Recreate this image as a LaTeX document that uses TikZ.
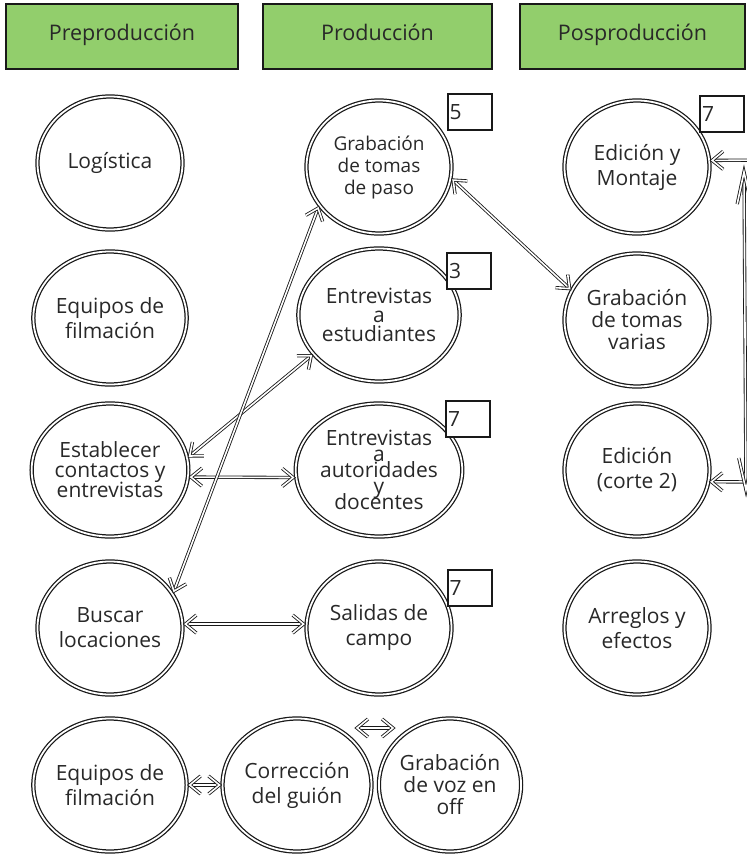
\documentclass[tikz,border=0pt]{standalone}
\usepackage{fontspec}
\setmainfont{Open Sans}
\usetikzlibrary{shapes.geometric,decorations.markings,calc}
\definecolor{hgreen}{RGB}{146,206,108}
\definecolor{ink}{RGB}{25,25,25}
\definecolor{tink}{RGB}{40,40,40}
\tikzset{
  dbl/.style={draw=ink, double=white, double distance=1.6pt, line width=0.85pt, line join=miter},
  circ/.style={ellipse, draw=ink, double=white, double distance=1.8pt, line width=1.25pt,
    minimum width=145pt, minimum height=133pt, inner sep=0pt, align=center,
    font=\fontsize{21}{25}\selectfont, text=tink, outer sep=3pt},
  hdr/.style={draw=ink, line width=2.2pt, fill=hgreen, minimum height=65pt,
    text height=12pt, text depth=5pt,
    font=\fontsize{21.5}{25}\selectfont, text=tink},
  numbox/.style={draw=ink, line width=2pt, fill=white, minimum height=36pt,
    text width=40pt, align=left, inner xsep=2pt, font=\fontsize{21}{25}\selectfont, text=tink},
  biarrow/.style={dbl, postaction={decorate}, decoration={markings,
    mark=at position 0 with {\draw[dbl] (11pt,9pt)--(0pt,0pt)--(11pt,-9pt);},
    mark=at position 1 with {\draw[dbl] (-11pt,9pt)--(0pt,0pt)--(-11pt,-9pt);}}},
  endarrow/.style={dbl, postaction={decorate}, decoration={markings,
    mark=at position 1 with {\draw[dbl] (-11pt,9pt)--(0pt,0pt)--(-11pt,-9pt);}}},
  bigbi/.style={dbl, postaction={decorate}, decoration={markings,
    mark=at position 0 with {\draw[dbl] (32pt,7pt)--(0pt,0pt)--(32pt,-7pt);},
    mark=at position 1 with {\draw[dbl] (-32pt,7pt)--(0pt,0pt)--(-32pt,-7pt);}}},
}
\begin{document}
\begin{tikzpicture}[x=1pt,y=-1pt]
\useasboundingbox (0,0) rectangle (747,855);

% headers
\node[hdr, minimum width=232pt] (h1) at (122,36.5) {Preproducción};
\node[hdr, minimum width=229pt] (h2) at (377.5,36.5) {Producción};
\node[hdr, minimum width=225pt] (h3) at (632.5,36.5) {Posproducción};

% column 1
\node[circ] (log) at (110,163) {Logística};
\node[circ] (equ) at (110,318) {Equipos de\\filmación};
\node[circ] (est) at (110,470) {Establecer\\[-5pt]contactos y\\[-5pt]entrevistas};
\node[circ] (bus) at (110,628) {Buscar\\locaciones};
\node[circ] (equb) at (110,785) {Equipos de\\filmación};

% column 2
\node[circ, font=\fontsize{19}{22}\selectfont] (paso) at (379,167) {Grabación\\de tomas\\de paso};
\node[circ] (estu) at (379,315) {Entrevistas\\[-6pt]a\\[-6pt]estudiantes};
\node[circ] (aut) at (379,470) {Entrevistas\\[-9pt]a\\[-9pt]autoridades\\[-9pt]y\\[-9pt]docentes};
\node[circ] (sal) at (379,628) {Salidas de\\campo};

% column 3
\node[circ] (edm) at (637,167) {Edición y\\Montaje};
\node[circ] (var) at (637,320) {Grabación\\[-3pt]de tomas\\[-3pt]varias};
\node[circ] (ed2) at (637,470) {Edición\\(corte 2)};
\node[circ] (arr) at (637,628) {Arreglos y\\efectos};

% bottom row
\node[circ, minimum width=139pt] (corr) at (297,785) {Corrección\\del guión};
\node[circ, minimum width=139pt] (voz) at (450,785) {Grabación\\[-3pt]de voz en\\[-3pt]off};

% number boxes
\node[numbox] (n5) at (469.5,112) {5};
\node[numbox] (n3) at (469,271) {3};
\node[numbox] (n7a) at (468,419) {7};
\node[numbox] (n7b) at (469.5,587.5) {7};
\node[numbox] (n7c) at (722,114) {7};

% connectors
\draw[biarrow] (est.-5) -- (aut.185);
\draw[biarrow] (bus.3) -- (sal.177);
\draw[biarrow] (est.10) -- (estu.211);
\draw[biarrow] (bus.30) -- (paso.214);
\draw[biarrow] (paso.-10) -- (var.155);
\draw[biarrow] (equb.east) -- (corr.west);
\coordinate (ta) at (357,728);
\coordinate (tb) at (393,728);
\draw[biarrow] (ta) -- (tb);

% right edge connectors
\coordinate (ra) at (765,160);
\coordinate (rb) at (765,482);
\coordinate (vt) at (744,172);
\coordinate (vb) at (746,490);
\draw[endarrow] (ra) -- (edm.5);
\draw[endarrow] (rb) -- (ed2.-9);
\draw[bigbi] (vt) -- (vb);
\end{tikzpicture}
\end{document}
